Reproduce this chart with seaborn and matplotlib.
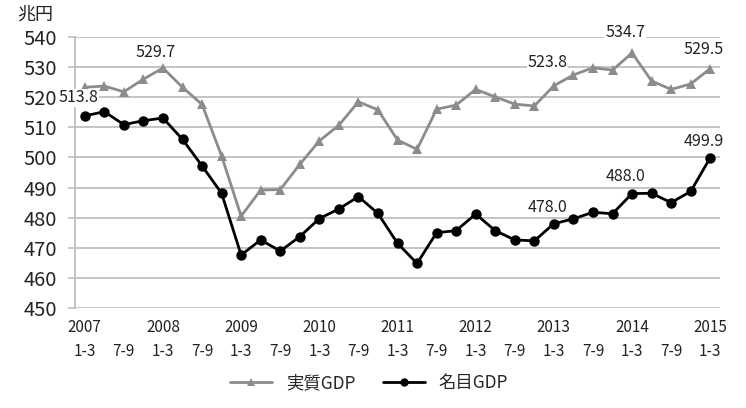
import matplotlib
matplotlib.use("Agg")
import matplotlib.pyplot as plt
import seaborn as sns
import pandas as pd

# Quarterly GDP, 2007 Q1 (1-3) to 2015 Q1 (1-3), trillion yen
years = [2007, 2008, 2009, 2010, 2011, 2012, 2013, 2014, 2015]
quarters = ["1-3", "4-6", "7-9", "10-12"]

real_gdp = [523.3, 523.7, 521.8, 526.0, 529.7, 523.3, 517.6, 500.5,
            480.5, 489.2, 489.3, 497.7, 505.5, 510.7, 518.5, 515.8,
            505.8, 502.7, 516.0, 517.4, 522.6, 520.1, 517.7, 517.1,
            523.8, 527.4, 529.8, 529.0, 534.7, 525.4, 522.6, 524.4,
            529.5]
nominal_gdp = [513.8, 515.2, 510.9, 512.2, 513.1, 506.0, 497.2, 488.1,
               467.6, 472.6, 468.9, 473.7, 479.7, 482.9, 487.0, 481.4,
               471.5, 464.8, 475.0, 475.7, 481.2, 475.7, 472.6, 472.3,
               478.0, 479.6, 481.8, 481.3, 488.0, 488.1, 485.0, 488.7,
               499.9]

# Labelled quarters and their text offsets (points)
real_labels = [(4, (-5, 11.5)), (24, (-4.5, 16.5)),
               (28, (-5, 14.5)), (32, (-4.5, 13.5))]
nominal_labels = [(0, (-4.5, 13)), (24, (-4.5, 12)),
                  (28, (-4.5, 12)), (32, (-4.5, 12))]

n = len(real_gdp)
tick_text = []
for i in range(0, n, 2):
    q = quarters[i % 4]
    tick_text.append(f"{years[i // 4]}\n{q}" if q == "1-3" else f"\n{q}")

df = pd.DataFrame({
    "idx": list(range(n)) * 2,
    "value": real_gdp + nominal_gdp,
    "series": ["実質GDP"] * n + ["名目GDP"] * n,
})

sns.set_theme(style="white")
plt.rcParams["font.family"] = ["Noto Sans CJK JP", "DejaVu Sans"]

grid_c = "#bfbfbf"
real_c = "#8c8c8c"
nom_c = "#000000"
text_c = "#222222"

fig = plt.figure(figsize=(7.46, 4.08), dpi=100)
ax = fig.add_axes([75 / 746, 1 - 308 / 408, (720 - 75) / 746, (308 - 37) / 408])

sns.lineplot(data=df, x="idx", y="value", hue="series", style="series",
             palette={"実質GDP": real_c, "名目GDP": nom_c},
             markers={"実質GDP": "^", "名目GDP": "o"},
             dashes=False, linewidth=2.0, markersize=7.5,
             markeredgewidth=0, ax=ax, legend=True)

ax.set_xlim(-0.5, n - 0.5)
ax.set_ylim(450, 540)
ax.set_yticks(range(450, 541, 10))
ax.set_xticks(range(0, n, 2))
ax.set_xticklabels(tick_text, fontsize=11, linespacing=1.55)
ax.tick_params(axis="y", labelsize=14.5, length=5, width=1.2, color=grid_c,
               pad=8, direction="out", left=True, labelcolor=text_c)
ax.tick_params(axis="x", length=0, pad=8, labelcolor=text_c)
ax.grid(axis="y", color=grid_c, linewidth=1.3)
ax.set_axisbelow(True)
ax.set_xlabel("")
ax.set_ylabel("")
for side in ["top", "right", "bottom"]:
    ax.spines[side].set_visible(False)
ax.spines["left"].set_color(grid_c)
ax.spines["left"].set_linewidth(1.3)

box = dict(facecolor="white", edgecolor="none", pad=0.5)
for idx, off in real_labels:
    ax.annotate(f"{real_gdp[idx]:.1f}", (idx, real_gdp[idx]), xytext=off,
                textcoords="offset points", ha="center", va="center",
                fontsize=11.5, color=text_c, bbox=box)
for idx, off in nominal_labels:
    ax.annotate(f"{nominal_gdp[idx]:.1f}", (idx, nominal_gdp[idx]), xytext=off,
                textcoords="offset points", ha="center", va="center",
                fontsize=11.5, color=text_c, bbox=box)

fig.text(17 / 746, 1 - 15 / 408, "兆円", fontsize=13, va="center", ha="left",
         color=text_c)

ax.legend(loc="center",
          bbox_to_anchor=((369 - 75) / (720 - 75), (308 - 383) / (308 - 37)),
          ncol=2, frameon=False, fontsize=12.5, handlelength=2.4,
          columnspacing=1.6, handletextpad=0.8, markerscale=0.8)

fig.savefig("out.png", dpi=100)
